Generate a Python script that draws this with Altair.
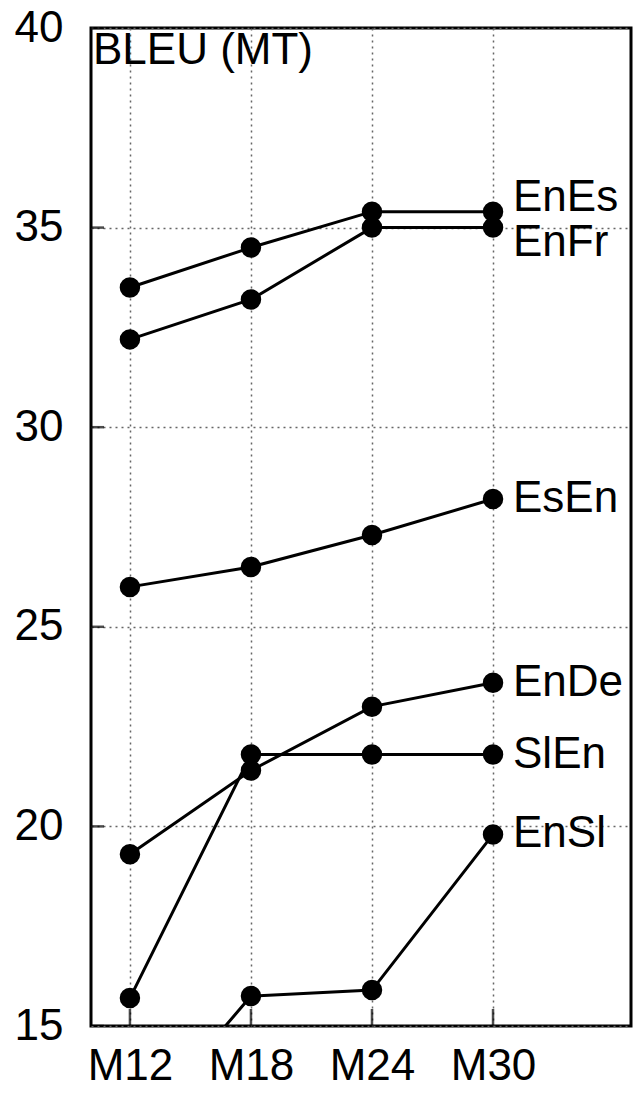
import altair as alt
import pandas as pd

months = [12, 18, 24, 30]
month_labels = ["M12", "M18", "M24", "M30"]
pairs = ["EnEs", "EnFr", "EsEn", "EnDe", "SlEn", "EnSl"]
en_es = [33.5, 34.5, 35.4, 35.4]
en_fr = [32.2, 33.2, 35.0, 35.0]
es_en = [26.0, 26.5, 27.3, 28.2]
en_de = [19.3, 21.4, 23.0, 23.6]
sl_en = [15.7, 21.8, 21.8, 21.8]
en_sl = [12.2, 15.75, 15.9, 19.8]
y_ticks = [15, 20, 25, 30, 35, 40]

series = [en_es, en_fr, es_en, en_de, sl_en, en_sl]
rows = []
for name, vals in zip(pairs, series):
    for i, (m, v) in enumerate(zip(months, vals)):
        rows.append({"pair": name, "month": m, "bleu": v, "last": i == len(months) - 1})
df = pd.DataFrame(rows)

FONT = "Liberation Sans"
FS = 44
W, H = 540, 998
xdom = [10.07, 36.84]
ydom = [15, 40]

xs = alt.Scale(domain=xdom, nice=False, zero=False)
ys = alt.Scale(domain=ydom, nice=False, zero=False)

base = alt.Chart(df)

x_enc = alt.X("month:Q", scale=xs,
              axis=alt.Axis(values=months, labelExpr="'M' + datum.value",
                            title=None, domain=False, ticks=False,
                            labelFont=FONT, labelFontSize=FS, labelColor="black",
                            labelPadding=18, labelBaseline="top",
                            grid=True, gridColor="#666666", gridDash=[2, 4],
                            gridWidth=1.5))
y_enc = alt.Y("bleu:Q", scale=ys,
              axis=alt.Axis(values=y_ticks, title=None, domain=False, ticks=False,
                            labelFont=FONT, labelFontSize=FS, labelColor="black",
                            labelPadding=28,
                            grid=True, gridColor="#666666", gridDash=[2, 4],
                            gridWidth=1.5))

lines = base.mark_line(color="black", strokeWidth=3, clip=True).encode(
    x=x_enc, y=y_enc, detail="pair:N")
points = base.mark_point(shape="circle", filled=True, color="black", size=420,
                         opacity=1, clip=True).encode(
    x=alt.X("month:Q", scale=xs), y=alt.Y("bleu:Q", scale=ys), detail="pair:N")

def label_layer(cond, dy):
    return base.transform_filter("datum.last").transform_filter(cond).mark_text(
        align="left", baseline="middle", dx=20, dy=dy, font=FONT, fontSize=FS,
        color="black").encode(
        x=alt.X("month:Q", scale=xs), y=alt.Y("bleu:Q", scale=ys), text="pair:N")

lab_top = label_layer("datum.pair == 'EnEs'", -14)
lab_bot = label_layer("datum.pair == 'EnFr'", 15)
lab_mid = label_layer("datum.pair != 'EnEs' && datum.pair != 'EnFr'", 0)

ytick_df = pd.DataFrame({"t": y_ticks})
xtick_df = pd.DataFrame({"m": months})
yticks = alt.Chart(ytick_df).mark_tick(orient="horizontal", size=26, thickness=2.5,
                                       color="black", clip=True).encode(
    x=alt.value(0), y=alt.Y("t:Q", scale=ys))
xticks = alt.Chart(xtick_df).mark_tick(orient="vertical", size=34, thickness=2.5,
                                       color="black", clip=True).encode(
    x=alt.X("m:Q", scale=xs), y=alt.value(H))

title_df = pd.DataFrame({"t": ["BLEU (MT)"]})
title = alt.Chart(title_df).mark_text(align="left", baseline="top", font=FONT,
                                      fontSize=FS, color="black").encode(
    x=alt.value(2), y=alt.value(1), text="t:N")

chart = alt.layer(lines, points, lab_top, lab_bot, lab_mid, yticks, xticks, title).properties(
    width=W, height=H,
    autosize=alt.AutoSizeParams(type="none"),
    padding={"left": 91, "top": 28, "right": 4, "bottom": 67},
).configure(background="white").configure_view(stroke="black", strokeWidth=3)

chart.save("out.html", embed_options={"renderer": "svg", "actions": False})
